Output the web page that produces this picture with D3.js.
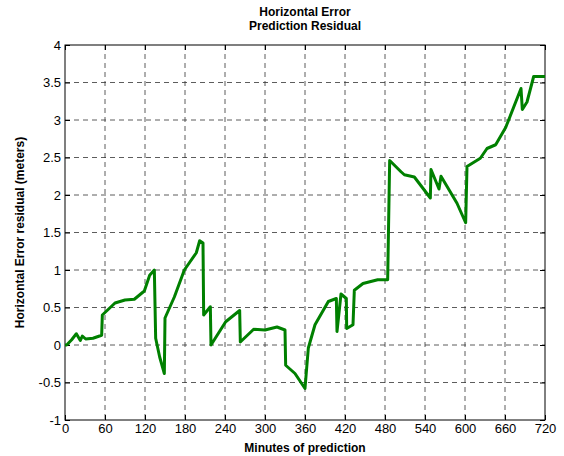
<!DOCTYPE html>
<html><head><meta charset="utf-8"/>
<script src="https://cdnjs.cloudflare.com/ajax/libs/d3/7.8.5/d3.min.js"></script>
<style>body{margin:0;background:#fff;} text{font-family:Arial,"Liberation Sans",sans-serif;}</style>
</head><body>
<svg id="chart" width="564" height="456"></svg>
<script>
// minutes of prediction / residual in meters
var minutes = [0,2.5,10,17,23,26,31,42,55,56,75,90,104,119,127,134,136,142,149,150,164,179,197,202,207,208,218,219,241,262,263,283,300,318,330,331,345,360,365,375,395,407,408,414,422,422.5,432,434,447,469,484,487,504,509,524,548,549,561,564,588,601,603,623,633,646,661,684,686,693,703,720];
var residual = [0,0,.07,.15,.06,.12,.08,.09,.13,.4,.56,.6,.61,.72,.93,1.0,.09,-.16,-.38,.36,.64,1.0,1.23,1.39,1.36,.4,.51,0,.31,.46,.04,.21,.2,.24,.2,-.27,-.38,-.58,-.04,.27,.58,.62,.18,.68,.62,.22,.27,.73,.82,.87,.87,2.46,2.31,2.27,2.24,1.96,2.34,2.08,2.25,1.89,1.63,2.38,2.49,2.62,2.67,2.9,3.42,3.14,3.24,3.58,3.58];
var xTicks = [0,60,120,180,240,300,360,420,480,540,600,660,720];
var yTicks = [-1,-0.5,0,0.5,1,1.5,2,2.5,3,3.5,4];

var svg = d3.select("#chart");
var L=65,R=545,T=45,B=420;
var x = d3.scaleLinear().domain([0,720]).range([L,R]);
var y = d3.scaleLinear().domain([-1,4]).range([B,T]);

// grid
svg.append("g").selectAll("line").data(xTicks.slice(1,-1)).enter().append("line")
  .attr("x1",x).attr("x2",x).attr("y1",T).attr("y2",B)
  .attr("stroke","#333").attr("stroke-dasharray","5,4").attr("stroke-width",0.8);
svg.append("g").selectAll("line").data(yTicks.slice(1,-1)).enter().append("line")
  .attr("y1",y).attr("y2",y).attr("x1",L).attr("x2",R)
  .attr("stroke","#333").attr("stroke-dasharray","5,4").attr("stroke-width",0.8);

svg.append("rect").attr("x",L).attr("y",T).attr("width",R-L).attr("height",B-T)
  .attr("fill","none").attr("stroke","#000");

var xa = svg.append("g").attr("transform","translate(0,"+B+")")
  .call(d3.axisBottom(x).tickValues(xTicks).tickSize(-5).tickPadding(4).tickFormat(d3.format("d")));
var ya = svg.append("g").attr("transform","translate("+L+",0)")
  .call(d3.axisLeft(y).tickValues(yTicks).tickSize(-5).tickPadding(4).tickFormat(function(d){return String(d);}));
[xa,ya].forEach(function(a){
  a.select(".domain").remove();
  a.selectAll("text").attr("font-size",13).attr("fill","#000");
});
svg.append("g").attr("transform","translate(0,"+T+")")
  .call(d3.axisTop(x).tickValues(xTicks).tickSize(-5).tickFormat("")).select(".domain").remove();
svg.append("g").attr("transform","translate("+R+",0)")
  .call(d3.axisRight(y).tickValues(yTicks).tickSize(-5).tickFormat("")).select(".domain").remove();

svg.append("path").datum(d3.zip(minutes,residual))
  .attr("fill","none").attr("stroke","#008000").attr("stroke-width",3).attr("stroke-linejoin","round")
  .attr("d",d3.line().x(function(d){return x(d[0]);}).y(function(d){return y(d[1]);}));

svg.append("text").attr("x",(L+R)/2).attr("y",16).attr("text-anchor","middle")
  .attr("font-size",12).attr("font-weight","bold").text("Horizontal Error");
svg.append("text").attr("x",(L+R)/2).attr("y",30).attr("text-anchor","middle")
  .attr("font-size",12).attr("font-weight","bold").text("Prediction Residual");
svg.append("text").attr("x",(L+R)/2).attr("y",452).attr("text-anchor","middle")
  .attr("font-size",12).attr("font-weight","bold").text("Minutes of prediction");
svg.append("text").attr("transform","translate(24,"+(T+B)/2+") rotate(-90)").attr("text-anchor","middle")
  .attr("font-size",12).attr("font-weight","bold").text("Horizontal Error residual (meters)");
</script>
</body></html>
